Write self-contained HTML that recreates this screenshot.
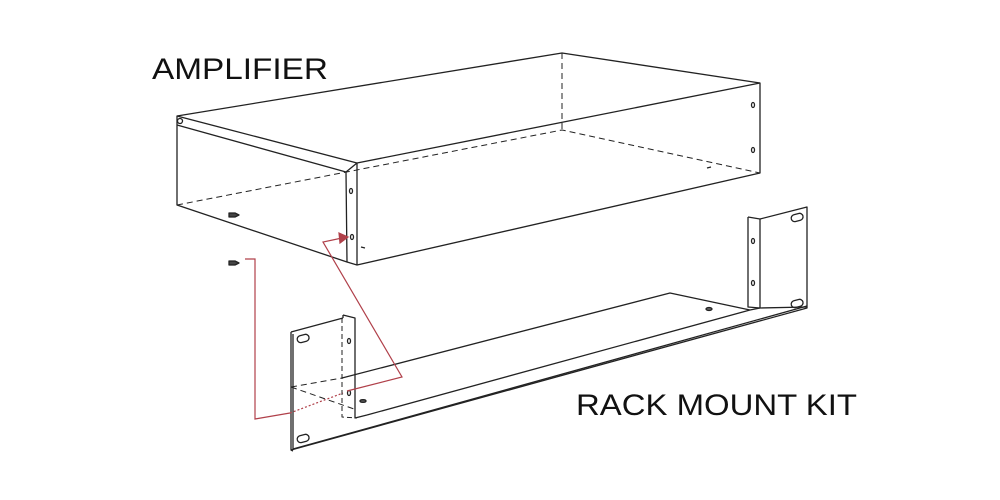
<!DOCTYPE html>
<html><head><meta charset="utf-8"><style>html,body{margin:0;padding:0;background:#fff}svg{display:block}</style></head>
<body>
<svg width="1000" height="500" viewBox="0 0 1000 500" xmlns="http://www.w3.org/2000/svg">
<g fill="none" stroke="#222" stroke-width="1.3" stroke-linejoin="round">
<!-- amplifier -->
<path d="M177,116 L562,53 L760,83 L760,173 L357,265 L347,262 L177,205 Z"/>
<path d="M177,125 L346,172 L357,163 L760,83"/>
<path d="M177,116 L357,163"/>
<path d="M346,172 L347,262 M357,163 L357,265"/>
<path d="M177,205 L562,130 L760,173 M562,53 L562,130" stroke-dasharray="6,4" stroke-width="1"/>
<circle cx="180" cy="121" r="2.5"/>
<ellipse cx="351" cy="191" rx="1.5" ry="2.5"/>
<ellipse cx="352" cy="237" rx="1.5" ry="2.5"/>
<ellipse cx="753" cy="105" rx="1.5" ry="2.5"/>
<ellipse cx="753" cy="150" rx="1.5" ry="2.5"/>
<path d="M361,247 l4,1 M707,168 l4,-1"/>
<!-- screws -->
<path d="M229,213 l6,0 l4,2 l-4,2 l-6,0 z" fill="#444"/>
<path d="M229,261 l6,0 l4,2 l-4,2 l-6,0 z" fill="#444"/>
<!-- rack left ear -->
<path d="M291,332 L343,318 M291,332 L291,450 L807,308 L807,207 L760,219 L748,217"/>
<path d="M293,334 L293,450 M291,450 L293,451"/>
<path d="M343,315 L355,318 L355,418 L367,415 M343,315 L343,318"/>
<path d="M342,318 L342,417 L357,418" stroke-dasharray="5,3" stroke-width="1"/>
<path d="M291,387 L342,378 M291,387 L357,410" stroke-dasharray="6,4" stroke-width="1"/>
<path d="M342,378 L670,293 L750,310 M367,415 L750,310 L760,308 M293,449 L807,306"/>
<!-- right ear -->
<path d="M748,217 L748,307 L760,308 L760,219 M760,308 L807,307"/>
<rect x="297" y="335" width="12" height="7" rx="3.5" transform="rotate(-15 303 338)"/>
<rect x="297" y="435" width="12" height="7" rx="3.5" transform="rotate(-15 303 438)"/>
<rect x="791" y="214" width="12" height="7" rx="3.5" transform="rotate(-15 797 217)"/>
<rect x="791" y="300" width="12" height="7" rx="3.5" transform="rotate(-15 797 303)"/>
<ellipse cx="753" cy="241" rx="1.5" ry="2.5"/>
<ellipse cx="753" cy="283" rx="1.5" ry="2.5"/>
<ellipse cx="349" cy="341" rx="1.5" ry="2.5"/>
<ellipse cx="349" cy="393" rx="1.5" ry="2.5"/>
<ellipse cx="363" cy="401" rx="3" ry="1.3" fill="#666"/>
<ellipse cx="709" cy="309" rx="3" ry="1.5" fill="#666"/>
</g>
<!-- red guides -->
<g fill="none" stroke="#b0404a" stroke-width="1.2">
<path d="M245,259 L255,259 L255,419 L290,413"/>
<path d="M290,413 L343,393" stroke-dasharray="2,2"/>
<path d="M347,391 L402,377 L323,242 L342,238"/>
<path d="M339,233 L348,237 L340,243 Z" fill="#b0404a"/>
</g>
<g font-family="'Liberation Sans', Arial, sans-serif" fill="#111">
<text x="152" y="79" font-size="30" textLength="176" lengthAdjust="spacingAndGlyphs">AMPLIFIER</text>
<text x="576" y="415" font-size="30" textLength="281" lengthAdjust="spacingAndGlyphs">RACK MOUNT KIT</text>
</g>
</svg>
</body></html>
